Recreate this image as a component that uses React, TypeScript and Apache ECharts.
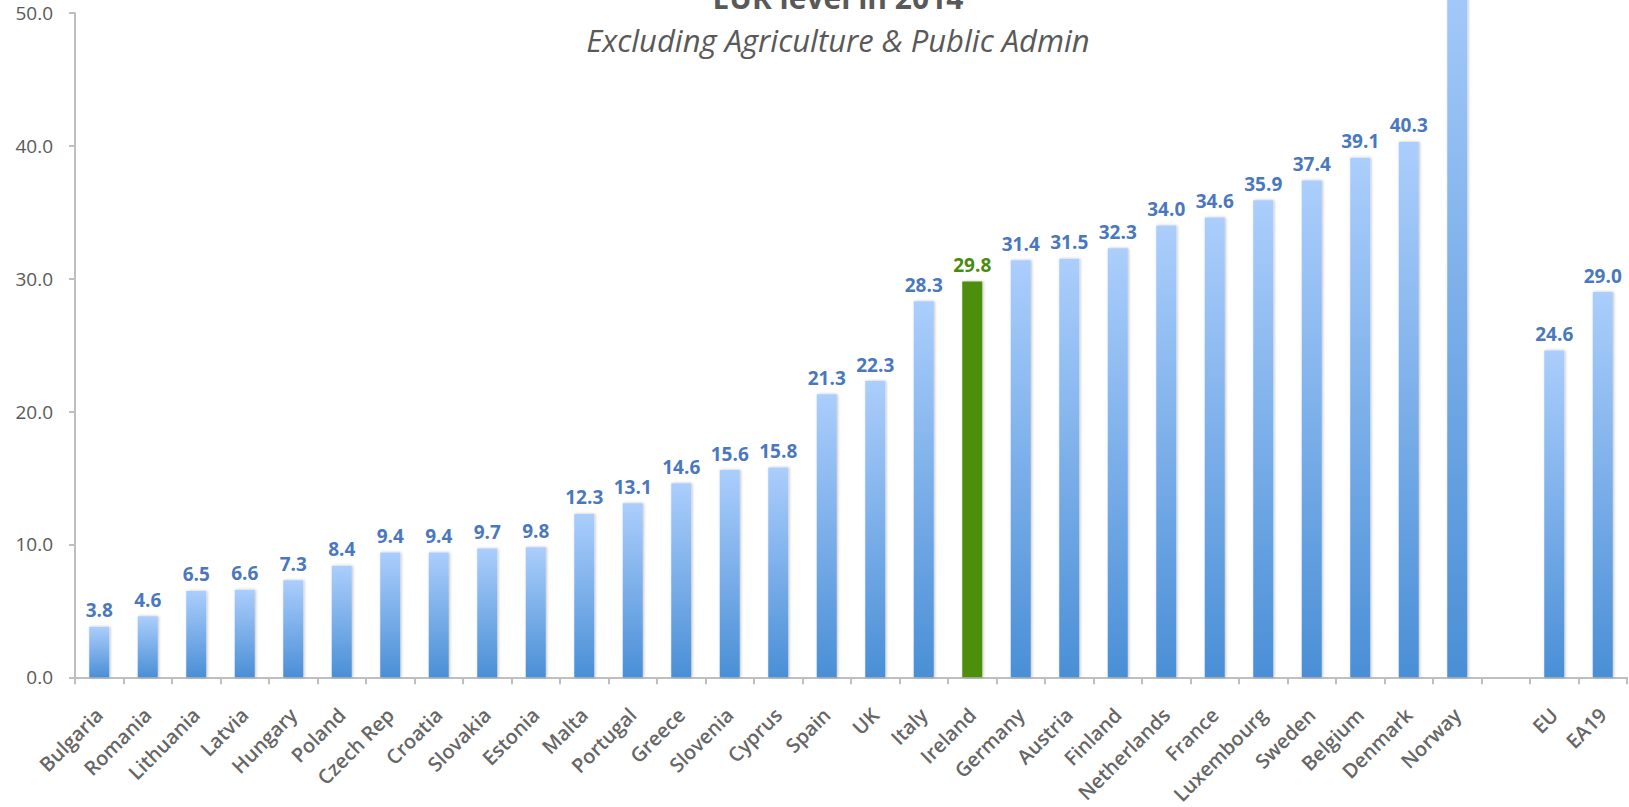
import React, { useEffect, useRef } from "react";
import * as echarts from "echarts";

const categories = [
  "Bulgaria", "Romania", "Lithuania", "Latvia", "Hungary", "Poland", "Czech Rep", "Croatia",
  "Slovakia", "Estonia", "Malta", "Portugal", "Greece", "Slovenia", "Cyprus", "Spain", "UK",
  "Italy", "Ireland", "Germany", "Austria", "Finland", "Netherlands", "France", "Luxembourg",
  "Sweden", "Belgium", "Denmark", "Norway", "", "EU", "EA19",
];
const values: (number | null)[] = [
  3.8, 4.6, 6.5, 6.6, 7.3, 8.4, 9.4, 9.4, 9.7, 9.8, 12.3, 13.1, 14.6, 15.6, 15.8, 21.3, 22.3,
  28.3, 29.8, 31.4, 31.5, 32.3, 34.0, 34.6, 35.9, 37.4, 39.1, 40.3, 56.0, null, 24.6, 29.0,
];
const highlight = "Ireland";
const hiddenLabel = "Norway";
const yTicks = [0, 10, 20, 30, 40, 50];
const titleText = "EUR level in 2014";
const subtitleText = "Excluding Agriculture & Public Admin";

export default function App() {
  const ref = useRef<HTMLDivElement>(null);
  useEffect(() => {
    if (!ref.current) return;
    const chart = echarts.init(ref.current, undefined, { renderer: "svg" });
    const blueGrad = new echarts.graphic.LinearGradient(0, 0, 0, 1, [
      { offset: 0, color: "#abcefc" },
      { offset: 1, color: "#4a8fd6" },
    ]);
    const data = values.map((v, i) => {
      const name = categories[i];
      if (v === null) return { value: null };
      if (name === highlight) {
        return {
          value: v,
          itemStyle: { color: "#4e8f0b" },
          label: { color: "#4a8a10" },
        };
      }
      if (name === hiddenLabel) {
        return { value: v, label: { show: false } };
      }
      return { value: v };
    });
    chart.setOption({
      animation: false,
      backgroundColor: "#ffffff",
      textStyle: { fontFamily: "'Open Sans', sans-serif" },
      title: [
        {
          text: titleText,
          left: 833,
          top: -23,
          textAlign: "center",
          textStyle: { fontSize: 30, fontWeight: "bold", color: "#595959", fontFamily: "'Open Sans', sans-serif" },
        },
        {
          text: subtitleText,
          left: 833,
          top: 19,
          textAlign: "center",
          textStyle: { fontSize: 31, fontStyle: "italic", fontWeight: "normal", color: "#595959", fontFamily: "'Open Sans', sans-serif" },
        },
      ],
      grid: { left: 75, right: 2, top: 13, bottom: 128, containLabel: false },
      xAxis: {
        type: "category",
        data: categories,
        axisLine: { lineStyle: { color: "#bfbfbf", width: 2 } },
        axisTick: { show: true, alignWithLabel: false, length: 7, lineStyle: { color: "#bfbfbf", width: 2 } },
        axisLabel: {
          interval: 0,
          rotate: 45,
          margin: 34,
          color: "#666666",
          fontSize: 20,
          fontWeight: 600,
          fontFamily: "'Open Sans', sans-serif",
        },
      },
      yAxis: {
        type: "value",
        min: yTicks[0],
        max: yTicks[yTicks.length - 1],
        interval: 10,
        splitLine: { show: false },
        axisLine: { show: true, lineStyle: { color: "#bfbfbf", width: 2 } },
        axisTick: { show: true, length: 6, lineStyle: { color: "#bfbfbf", width: 2 } },
        axisLabel: {
          margin: 22,
          color: "#595959",
          fontSize: 19,
          fontFamily: "'Open Sans', sans-serif",
          formatter: (v: number) => v.toFixed(1),
        },
      },
      series: [
        {
          type: "bar",
          data,
          barWidth: 20,
          clip: false,
          itemStyle: {
            color: blueGrad,
            shadowColor: "rgba(0,0,0,0.25)",
            shadowBlur: 3,
            shadowOffsetX: 1,
          },
          label: {
            show: true,
            position: "top",
            distance: 7,
            color: "#4a78be",
            fontSize: 19,
            fontWeight: "bold",
            fontFamily: "'Open Sans', sans-serif",
            formatter: (p: any) => (p.value == null ? "" : Number(p.value).toFixed(1)),
          },
        },
      ],
    });
    return () => chart.dispose();
  }, []);
  return (
    <div
      ref={ref}
      style={{ position: "fixed", left: 0, top: 0, width: 1629, height: 807 }}
    />
  );
}
